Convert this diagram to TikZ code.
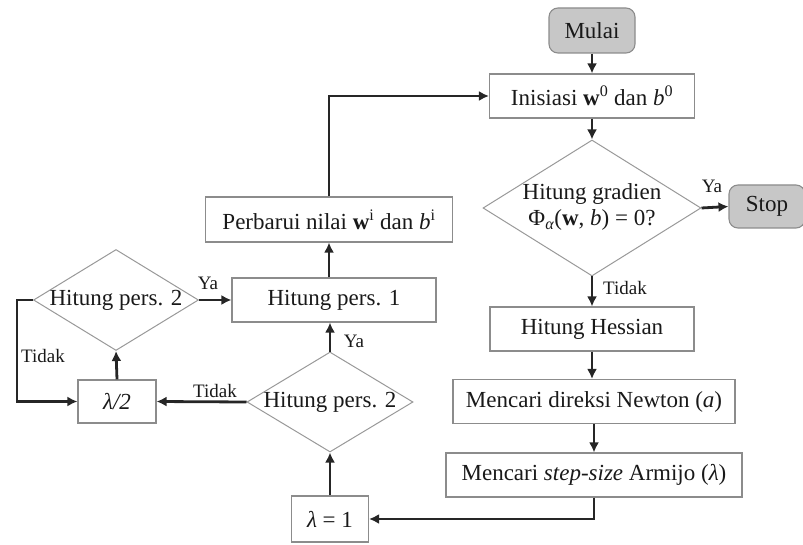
\documentclass[tikz,border=0pt]{standalone}
\usepackage{fontspec}
\setmainfont{Liberation Serif}
\usetikzlibrary{shapes.geometric,arrows.meta}
\begin{document}
\begin{tikzpicture}[x=1pt,y=-1pt,
  txt/.style={font=\fontsize{23}{25}\selectfont, text=black!90},
  proc/.style={txt, draw=black!45, line width=1.1pt, inner sep=0pt, minimum height=44pt},
  term/.style={proc, rounded corners=9pt, fill=black!22},
  decision/.style={txt, diamond, draw=black!40, line width=1pt, inner sep=0pt, aspect=1.6},
  flow/.style={draw=black!85, line width=2.8pt, -{Latex[length=10pt,width=10pt]}},
  lbl/.style={font=\fontsize{19}{21}\selectfont, text=black!90, inner sep=0pt}
]
\useasboundingbox (0,0) rectangle (803,545);
% right column
\node[term, minimum width=86pt, minimum height=45pt] (mulai) at (592,30.5) {Mulai};
\node[proc, minimum width=205pt] (init) at (592,96) {Inisiasi \textbf{w}\textsuperscript{0} dan \textit{b}\textsuperscript{0}};
\node[decision, minimum width=218pt, minimum height=136pt] (grad) at (592,208)
  {\makebox[0pt]{\begin{tabular}{@{}c@{}}Hitung gradien\\[1pt] Φ\textsubscript{\textit{α}}(\textbf{w}, \textit{b}) = 0?\end{tabular}}};
\node[term, minimum width=76pt, minimum height=43pt] (stop) at (767,206.5) {Stop};
\node[proc, minimum width=204pt] (hess) at (592,329) {Hitung Hessian};
\node[proc, minimum width=282pt] (newton) at (594,401.5) {Mencari direksi Newton (\textit{a})};
\node[proc, minimum width=296pt] (armijo) at (594,475) {Mencari \textit{step-size} Armijo (\textit{λ})};
% left part
\node[proc, minimum width=77pt, minimum height=46pt] (lam1) at (330,519) {\textit{λ} = 1};
\node[decision, minimum width=166pt, minimum height=100pt] (dtwo) at (330,402) {\makebox[0pt]{Hitung pers. 2}};
\node[proc, minimum width=204pt] (pone) at (334,300) {Hitung pers. 1};
\node[proc, minimum width=247pt, minimum height=45pt] (perb) at (329,219.5) {Perbarui nilai \textbf{w}\textsuperscript{i} dan \textit{b}\textsuperscript{i}};
\node[decision, minimum width=165pt, minimum height=101pt] (done) at (116,300) {\makebox[0pt]{Hitung pers. 2}};
\node[proc, minimum width=78pt, minimum height=43pt] (lamh) at (117,401.5) {\textit{λ/2}};
\coordinate (loopc) at (17,300);
% connectors
\draw[flow] (mulai) -- (init);
\draw[flow] (init) -- (grad);
\draw[flow] (grad.east) -- (stop.west);
\draw[flow] (grad.south) -- (hess.north);
\draw[flow] (hess) -- (newton.north -| hess.south);
\draw[flow] (newton) -- (armijo);
\draw[flow] (armijo.south) |- (lam1.east);
\draw[flow] (lam1.north) -- (dtwo.south);
\draw[flow] (dtwo.north) -- (dtwo.north |- pone.south);
\draw[flow] (perb.south |- pone.north) -- (perb.south);
\draw[flow] (perb.north) |- (init.west);
\draw[flow] (dtwo.west) -- (lamh.east);
\draw[flow] (lamh.north) -- (done.south);
\draw[flow] (done.east) -- (pone.west);
\draw[flow] (done.west) -- (loopc) |- (lamh.west);
% labels
\node[lbl] (yastop) at (712,186) {Ya};
\node[lbl] (tdgrad) at (625,288) {Tidak};
\node[lbl] (yaone) at (354,341) {Ya};
\node[lbl] (tdtwo) at (215,391) {Tidak};
\node[lbl] (yadone) at (208,283) {Ya};
\node[lbl] (tddone) at (43,356) {Tidak};
\end{tikzpicture}
\end{document}
